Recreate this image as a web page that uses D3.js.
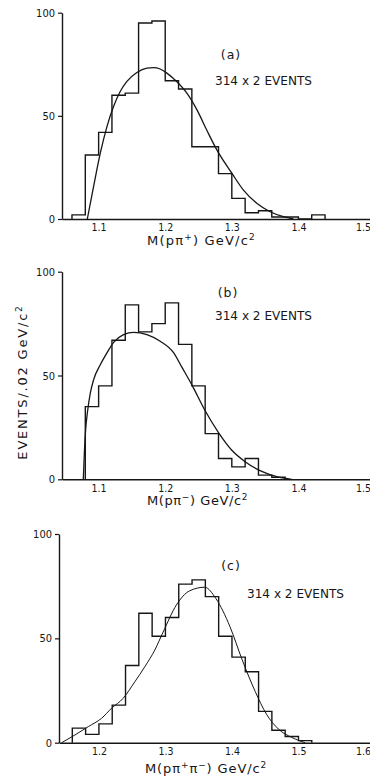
<!DOCTYPE html>
<html>
<head>
<meta charset="utf-8">
<script src="https://cdn.jsdelivr.net/npm/d3@7"></script>
<style>
  body { margin: 0; background: #fff; }
  svg { display: block; font-family: "DejaVu Sans", sans-serif; }
</style>
</head>
<body>
<svg id="chart" width="370" height="782"></svg>
<script>
var binWidth = 0.02;

// (a) M(p pi+)
var binStartA = 1.06;
var countsA = [2, 31, 42, 60, 61, 95, 96, 67, 63, 35, 35, 22, 10, 3, 4, 1, 1, 0, 2];
var fitXA = [1.083, 1.0924, 1.1025, 1.1125, 1.1224, 1.1324, 1.1425, 1.1575, 1.1725, 1.1824, 1.1924, 1.2025, 1.2175, 1.2325, 1.2475, 1.2625, 1.2775, 1.30, 1.3175, 1.3375, 1.3575, 1.3775, 1.3925];
var fitYA = [0, 15.7, 31.9, 44.8, 54.5, 61.8, 66.7, 71, 73.1, 73.4, 72.7, 70.7, 66.5, 61, 53, 43, 33.5, 22.2, 14, 7.6, 3.5, 1.1, 0];

// (b) M(p pi-)
var binStartB = 1.08;
var countsB = [35, 45, 67, 84, 71, 75, 85, 65, 45, 22, 10, 6, 10, 2, 1];
var fitXB = [1.077, 1.0785, 1.0805, 1.0835, 1.0875, 1.0925, 1.1025, 1.1125, 1.1225, 1.1375, 1.1525, 1.1725, 1.1925, 1.2125, 1.225, 1.24, 1.26, 1.28, 1.30, 1.32, 1.345, 1.37, 1.39];
var fitYB = [0, 12, 24, 33, 41.5, 48, 55.2, 60.9, 66, 69.7, 70.8, 69.7, 66.5, 61, 54, 45.5, 33, 22.5, 14, 8.5, 3.8, 1, 0];

// (c) M(p pi+ pi-)
var binStartC = 1.16;
var countsC = [7, 4, 9, 18, 37, 62, 51, 60, 76, 78, 70, 51, 41, 34, 15, 6, 3, 1];
var fitXC = [1.144, 1.164, 1.184, 1.204, 1.219, 1.2365, 1.254, 1.269, 1.284, 1.2965, 1.3165, 1.3365, 1.359, 1.376, 1.397, 1.415, 1.435, 1.452, 1.47, 1.49, 1.51];
var fitYC = [0, 3.7, 7.7, 11.7, 16.5, 21.3, 29.2, 36.4, 44.4, 53, 66, 72.8, 74.5, 69, 55.6, 40, 24.5, 13.6, 6.5, 2.5, 0];

var xTicksAB = [1.1, 1.2, 1.3, 1.4, 1.5];
var xTicksC = [1.2, 1.3, 1.4, 1.5, 1.6];
var yTicks = [0, 50, 100];

var panelTags = ["(a)", "(b)", "(c)"];
var eventsLabel = "314 x 2 EVENTS";
// [text, superscript?]
var xTitleA = [["M(pπ", false], ["+", true], [")  GeV/c", false], ["2", true]];
var xTitleB = [["M(pπ", false], ["−", true], [")  GeV/c", false], ["2", true]];
var xTitleC = [["M(pπ", false], ["+", true], ["π", false], ["−", true], [")  GeV/c", false], ["2", true]];
var yTitle = [["EVENTS/.02  GeV/c", false], ["2", true]];

var ink = "#161616";
var tickFont = "'DejaVu Sans Condensed', 'DejaVu Sans', sans-serif";
var svg = d3.select("#chart");

function addTitle(sel, parts) {
    parts.forEach(function(part, i) {
        var s = sel.append("tspan").text(part[0]);
        var prevSup = i > 0 && parts[i - 1][1];
        if (part[1]) s.attr("font-size", "9px").attr("dy", prevSup ? 0 : -5);
        else s.attr("dy", prevSup ? 5 : 0);
    });
}

function drawPanel(p) {
    var x = d3.scaleLinear().domain(p.xDomain).range([p.left, 370]);
    var y = d3.scaleLinear().domain([0, 100]).range([p.bottom, p.top]);

    var g = svg.append("g");

    // y axis
    var yAxis = d3.axisLeft(y).tickValues(yTicks).tickSize(4).tickSizeOuter(0).tickPadding(3);
    var ya = g.append("g")
        .attr("transform", `translate(${p.left},0)`)
        .call(yAxis);
    ya.select(".domain").attr("stroke", ink).attr("stroke-width", 1.4);
    ya.selectAll(".tick line").attr("stroke", ink).attr("stroke-width", 1.2);
    ya.selectAll(".tick text")
        .attr("fill", ink)
        .attr("font-size", "11px")
        .attr("font-family", tickFont);

    // x axis, labels only
    var xAxis = d3.axisBottom(x).tickValues(p.xTicks).tickSize(0).tickSizeOuter(0).tickPadding(5)
        .tickFormat(d3.format(".1f"));
    var xa = g.append("g")
        .attr("transform", `translate(0,${p.bottom})`)
        .call(xAxis);
    xa.select(".domain").attr("stroke", ink).attr("stroke-width", 1.4);
    xa.selectAll(".tick text")
        .attr("fill", ink)
        .attr("font-size", "10.5px")
        .attr("font-family", tickFont);
    // keep the last label inside the frame
    xa.selectAll(".tick text").filter((d, i, n) => i === n.length - 1).attr("dx", -2);

    // histogram outline
    var pts = [[p.binStart, 0]];
    p.counts.forEach(function(c, i) {
        var lo = p.binStart + i * binWidth;
        pts.push([lo, c]);
        pts.push([lo + binWidth, c]);
    });
    pts.push([p.binStart + p.counts.length * binWidth, 0]);

    var line = d3.line().x(d => x(d[0])).y(d => y(d[1]));
    g.append("path")
        .attr("d", line(pts))
        .attr("fill", "none")
        .attr("stroke", ink)
        .attr("stroke-width", 1.4);

    // fitted curve
    var fit = p.fitX.map((v, i) => [v, p.fitY[i]]);
    g.append("path")
        .attr("d", d3.line().x(d => x(d[0])).y(d => y(d[1])).curve(d3.curveMonotoneX)(fit))
        .attr("fill", "none")
        .attr("stroke", ink)
        .attr("stroke-width", p.fitWidth);

    // labels
    g.append("text")
        .attr("x", p.tagPos[0]).attr("y", p.tagPos[1])
        .attr("text-anchor", "middle")
        .attr("font-size", "12.5px")
        .attr("letter-spacing", "1px")
        .attr("fill", ink)
        .text(p.tag);

    g.append("text")
        .attr("x", p.eventsPos[0]).attr("y", p.eventsPos[1])
        .attr("font-size", "13px")
        .attr("textLength", 97)
        .attr("lengthAdjust", "spacingAndGlyphs")
        .attr("fill", ink)
        .text(eventsLabel);

    var t = g.append("text")
        .attr("x", p.titlePos[0]).attr("y", p.titlePos[1])
        .attr("font-size", "13px")
        .attr("letter-spacing", p.titleSpacing + "px")
        .attr("fill", ink);
    addTitle(t, p.title);
}

drawPanel({
    xDomain: [1.045, 1.5075], left: 62, top: 12.7, bottom: 219,
    xTicks: xTicksAB, binStart: binStartA, counts: countsA,
    fitX: fitXA, fitY: fitYA, fitWidth: 1.3,
    tag: panelTags[0], tagPos: [231, 59], eventsPos: [215, 85],
    title: xTitleA, titlePos: [147, 245], titleSpacing: 1.2
});

drawPanel({
    xDomain: [1.045, 1.5075], left: 62, top: 271.7, bottom: 479.3,
    xTicks: xTicksAB, binStart: binStartB, counts: countsB,
    fitX: fitXB, fitY: fitYB, fitWidth: 1.3,
    tag: panelTags[1], tagPos: [228, 297], eventsPos: [215, 320],
    title: xTitleB, titlePos: [147, 505], titleSpacing: 0.6
});

drawPanel({
    xDomain: [1.14, 1.6075], left: 59, top: 534, bottom: 742.7,
    xTicks: xTicksC, binStart: binStartC, counts: countsC,
    fitX: fitXC, fitY: fitYC, fitWidth: 1,
    tag: panelTags[2], tagPos: [231, 570], eventsPos: [247, 598],
    title: xTitleC, titlePos: [145, 773], titleSpacing: 0.9
});

// y title on panel (b)
var yt = svg.append("text")
    .attr("transform", "translate(27,382) rotate(-90)")
    .attr("text-anchor", "middle")
    .attr("font-size", "13px")
    .attr("letter-spacing", "1.8px")
    .attr("fill", ink);
addTitle(yt, yTitle);
</script>
</body>
</html>
